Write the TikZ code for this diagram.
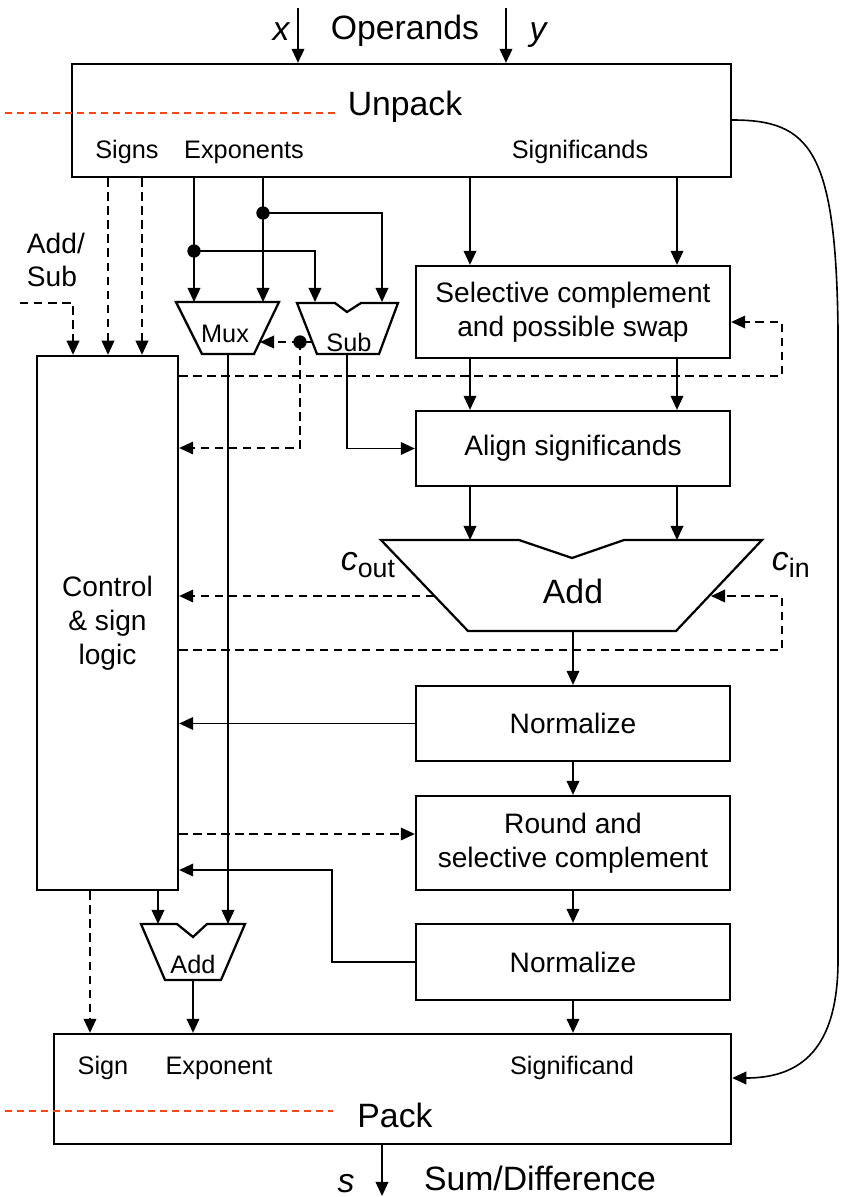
\documentclass[tikz,border=0pt]{standalone}
\usepackage{fontspec}
\setmainfont{Liberation Sans}
\usetikzlibrary{arrows.meta}

\definecolor{cutred}{RGB}{250,70,20}
\tikzset{
  blk/.style={draw, line width=1.6pt, minimum width=7.85cm, inner sep=0pt, align=center, font=\fontsize{20}{24}\selectfont},
  trap/.style={draw, line width=1.6pt, fill=white, line join=miter},
  wire/.style={line width=1.15pt},
  arr/.style={wire, -{Triangle[length=10pt,width=9pt]}},
  ctl/.style={wire, dash pattern=on 6pt off 4pt},
  cut/.style={line width=1pt, cutred, dash pattern=on 5pt off 3.5pt},
  dot/.style={circle, fill, inner sep=0pt, minimum size=9.5pt},
  big/.style={font=\fontsize{24}{28}\selectfont},
  mid/.style={font=\fontsize{20}{24}\selectfont, align=left},
  small/.style={font=\fontsize{18}{22}\selectfont},
}

\begin{document}
\begin{tikzpicture}[x=0.025cm, y=-0.025cm]
    \useasboundingbox (0,0) rectangle (842,1197);

    % Blocks
    \node[blk, minimum width=16.475cm, minimum height=2.825cm] (unpack) at (401.5,120.5) {};
    \node[blk, minimum height=2.3cm] (selcomp) at (573,312) {Selective complement\\and possible swap};
    \node[blk, minimum height=1.875cm] (align) at (573,448.5) {Align significands};
    \node[blk, minimum height=1.875cm] (norm1) at (573,723.5) {Normalize};
    \node[blk, minimum height=2.35cm] (round) at (573,843) {Round and\\selective complement};
    \node[blk, minimum height=1.9cm] (norm2) at (573,962) {Normalize};
    \node[blk, minimum width=16.925cm, minimum height=2.75cm] (pack) at (392.5,1089) {};
    \node[blk, minimum width=3.525cm, minimum height=13.35cm] (control) at (107.5,623) {Control\\\& sign\\logic};

    % Labels inside unpack and pack
    \node[big, anchor=base] (unpacklbl) at (405,115) {Unpack};
    \node[small, anchor=base] (signs) at (127,158) {Signs};
    \node[small, anchor=base] (exps) at (244,158) {Exponents};
    \node[small, anchor=base] (sigs) at (580,158) {Significands};
    \node[big, anchor=base] (packlbl) at (395,1127) {Pack};
    \node[small, anchor=base] (sign) at (103,1074) {Sign};
    \node[small, anchor=base] (expo) at (219,1074) {Exponent};
    \node[small, anchor=base] (sigd) at (572,1074) {Significand};

    % Outside labels
    \node[big, anchor=base] (opnds) at (405,39) {Operands};
    \node[big, anchor=base] (xlbl) at (281,40) {\itshape x};
    \node[big, anchor=base] (ylbl) at (538,40) {\itshape y};
    \node[big, anchor=base] (slbl) at (346,1192) {\itshape s};
    \node[big, anchor=base] (sumdiff) at (540,1190) {Sum/Difference};
    \node[mid, anchor=west] (addsub) at (22,260) {Add/\\Sub};
    \node[big, anchor=base west] (cout) at (336,570) {\itshape c\upshape\raisebox{-5pt}{\fontsize{19}{22}\selectfont out}};
    \node[big, anchor=base west] (cin) at (767,570) {\itshape c\upshape\raisebox{-5pt}{\fontsize{19}{22}\selectfont in}};

    % Mux, Sub and the two adders
    \draw[trap] (176,302) -- (279,302) -- (254,354) -- (202,354) -- cycle;
    \draw[trap] (297,303) -- (335,303) -- (347,312) -- (361,303) -- (398,303) -- (379,354) -- (317,354) -- cycle;
    \draw[trap] (381,540) -- (519,540) -- (572,558) -- (624,540) -- (762,540) -- (676,631) -- (468,631) -- cycle;
    \draw[trap] (141,924) -- (177,924) -- (193,937) -- (207,924) -- (245,924) -- (221,980) -- (165,980) -- cycle;
    \node[small, anchor=base] (mux) at (225,342) {Mux};
    \node[small, anchor=base] (sub) at (349,351) {Sub};
    \node[big, anchor=base] (addsig) at (573,603) {Add};
    \node[small, anchor=base] (addexp) at (193,973) {Add};

    % Ports and columns
    \coordinate (xtop) at (298,8);
    \coordinate (ytop) at (506,8);
    \coordinate (sgA) at (108,0);
    \coordinate (sgB) at (142,0);
    \coordinate (asx) at (73,0);
    \coordinate (asin) at (20,303);
    \coordinate (exA) at (194,0);
    \coordinate (exB) at (263,0);
    \coordinate (sbA) at (315,0);
    \coordinate (sbB) at (382,0);
    \coordinate (sgL) at (470,0);
    \coordinate (sgR) at (677,0);
    \coordinate (trapT) at (0,302);
    \coordinate (mxbot) at (228,354);
    \coordinate (sbbot) at (347,354);
    \coordinate (muxR) at (260,342);
    \coordinate (subL) at (312,342);
    \coordinate (adtop) at (0,540);
    \coordinate (adbot) at (573,631);
    \coordinate (coutpt) at (434,596);
    \coordinate (cinpt) at (711,596);
    \coordinate (fbx) at (782,0);
    \coordinate (rsel) at (0,376);
    \coordinate (rselin) at (0,322);
    \coordinate (rsgn) at (0,448);
    \coordinate (rcin) at (0,650);
    \coordinate (rrnd) at (0,834);
    \coordinate (nrt) at (332,870);
    \coordinate (eaL) at (158,924);
    \coordinate (eaR) at (228,924);
    \coordinate (eabot) at (193,980);
    \coordinate (pks) at (90,0);
    \coordinate (outs) at (382,0);
    \coordinate (sout) at (382,1196);
    \coordinate (rcv1) at (0,120);
    \coordinate (rcv2) at (0,1078);

    % Junction dots
    \node[dot] (jA) at (263,213) {};
    \node[dot] (jB) at (194,251) {};
    \node[dot] (jC) at (300,342) {};

    % Operands in
    \draw[arr] (xtop) -- (xtop |- unpack.north);
    \draw[arr] (ytop) -- (ytop |- unpack.north);

    % Exponent path
    \draw[arr] (unpack.south -| exA) -- (exA |- trapT);
    \draw[arr] (unpack.south -| exB) -- (exB |- trapT);
    \draw[arr] (jB.center) -| (sbA |- trapT);
    \draw[arr] (jA.center) -| (sbB |- trapT);
    \draw[wire] (jC.center) -- (subL);
    \draw[ctl, arr] (jC.center) -- (muxR);
    \draw[ctl, arr] (jC.center) |- (control.east |- rsgn);
    \draw[arr] (sbbot) |- (align.west);
    \draw[arr] (mxbot) -- (eaR);
    \draw[arr] (control.south -| eaL) -- (eaL);
    \draw[arr] (eabot) -- (eabot |- pack.north);

    % Significand path
    \draw[arr] (unpack.south -| sgL) -- (selcomp.north -| sgL);
    \draw[arr] (unpack.south -| sgR) -- (selcomp.north -| sgR);
    \draw[arr] (selcomp.south -| sgL) -- (align.north -| sgL);
    \draw[arr] (selcomp.south -| sgR) -- (align.north -| sgR);
    \draw[arr] (align.south -| sgL) -- (sgL |- adtop);
    \draw[arr] (align.south -| sgR) -- (sgR |- adtop);
    \draw[arr] (adbot) -- (norm1.north);
    \draw[arr] (norm1.south) -- (round.north);
    \draw[arr] (round.south) -- (norm2.north);
    \draw[arr] (norm2.south) -- (norm2.south |- pack.north);

    % Control signals
    \draw[ctl, arr] (asin) -| (control.north -| asx);
    \draw[ctl, arr] (unpack.south -| sgA) -- (control.north -| sgA);
    \draw[ctl, arr] (unpack.south -| sgB) -- (control.north -| sgB);
    \draw[ctl, arr] (control.east |- rsel) -| (fbx |- rselin) -- (selcomp.east |- rselin);
    \draw[ctl, arr] (coutpt) -- (control.east |- coutpt);
    \draw[ctl, arr] (control.east |- rcin) -| (fbx |- cinpt) -- (cinpt);
    \draw[arr] (norm1.west) -- (control.east |- norm1.west);
    \draw[ctl, arr] (control.east |- rrnd) -- (round.west |- rrnd);
    \draw[arr] (norm2.west) -| (nrt) -- (control.east |- nrt);
    \draw[ctl, arr] (control.south -| pks) -- (pack.north -| pks);

    % Bypass curve and output
    \draw[arr] (unpack.east |- rcv1) .. controls (810,120) and (836,150) .. (838,330)
        -- (838,960) .. controls (838,1050) and (800,1078) .. (pack.east |- rcv2);
    \draw[arr] (pack.south -| outs) -- (sout);

    % Red cut lines
    \coordinate (cutA) at (5,113);
    \coordinate (cutB) at (335,113);
    \coordinate (cutC) at (5,1111);
    \coordinate (cutD) at (333,1111);
    \draw[cut] (cutA) -- (cutB);
    \draw[cut] (cutC) -- (cutD);
\end{tikzpicture}
\end{document}
